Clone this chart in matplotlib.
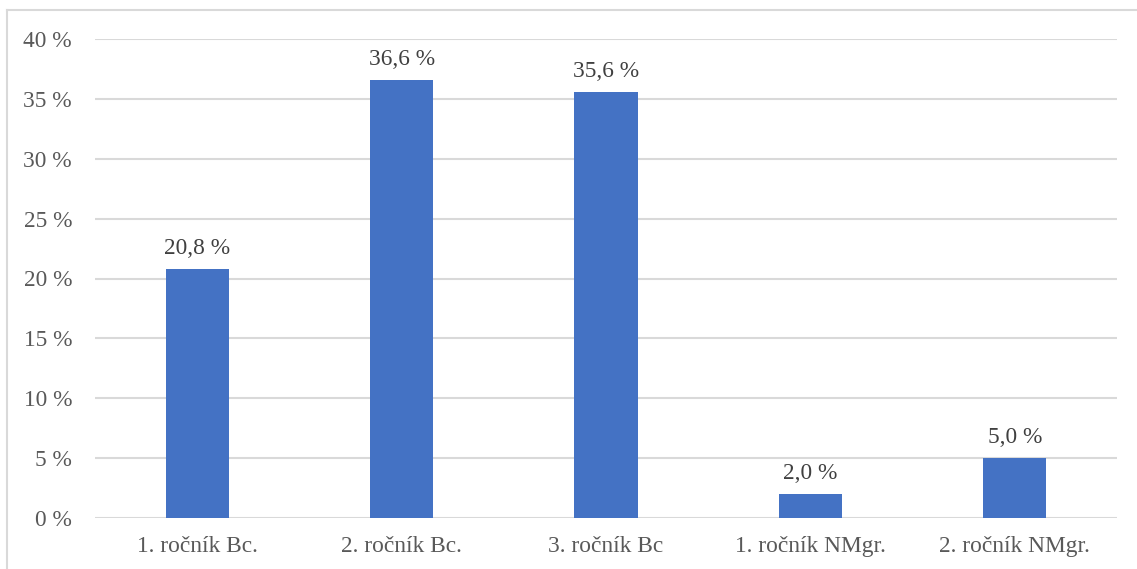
import matplotlib.pyplot as plt
from matplotlib.lines import Line2D
import numpy as np

# data
categories = ['1. ročník Bc.', '2. ročník Bc.', '3. ročník Bc', '1. ročník NMgr.', '2. ročník NMgr.']
values = [20.8, 36.6, 35.6, 2.0, 5.0]
y_ticks = [0, 5, 10, 15, 20, 25, 30, 35, 40]

plt.rcParams['font.family'] = ['Liberation Serif', 'DejaVu Serif']

fig = plt.figure(figsize=(11.37, 5.69), dpi=100)
ax = fig.add_axes([95 / 1137, 1 - 518 / 569, (1117 - 95) / 1137, (518 - 39) / 569])

x = np.arange(len(categories))
ax.bar(x, values, width=0.31, color='#4472C4', zorder=3)

for xi, v in zip(x, values):
    ax.annotate(f"{v:.1f} %".replace('.', ','), (xi, v), xytext=(0, 7),
                textcoords='offset points', ha='center', va='bottom',
                fontsize=16.8, color='#404040')

ax.set_xlim(-0.5, len(categories) - 0.5)
ax.set_ylim(0, 40)
ax.set_yticks(y_ticks)
ax.set_yticklabels([f"{t} %" for t in y_ticks])
ax.set_xticks(x)
ax.set_xticklabels(categories)
ax.tick_params(axis='both', length=0, labelsize=16.8, colors='#595959')
ax.tick_params(axis='y', pad=16.5)
ax.tick_params(axis='x', pad=13)

ax.grid(axis='y', color='#d9d9d9', linewidth=1.5, zorder=0)
for s in ax.spines.values():
    s.set_visible(False)

# chart area border (cropped at right and bottom)
fig.add_artist(Line2D([7 / 1137, 1.0], [1 - 10 / 569] * 2, transform=fig.transFigure,
                      color='#d9d9d9', linewidth=1.5))
fig.add_artist(Line2D([7 / 1137] * 2, [0.0, 1 - 10 / 569], transform=fig.transFigure,
                      color='#d9d9d9', linewidth=1.5))

fig.savefig('out.png', dpi=100)
